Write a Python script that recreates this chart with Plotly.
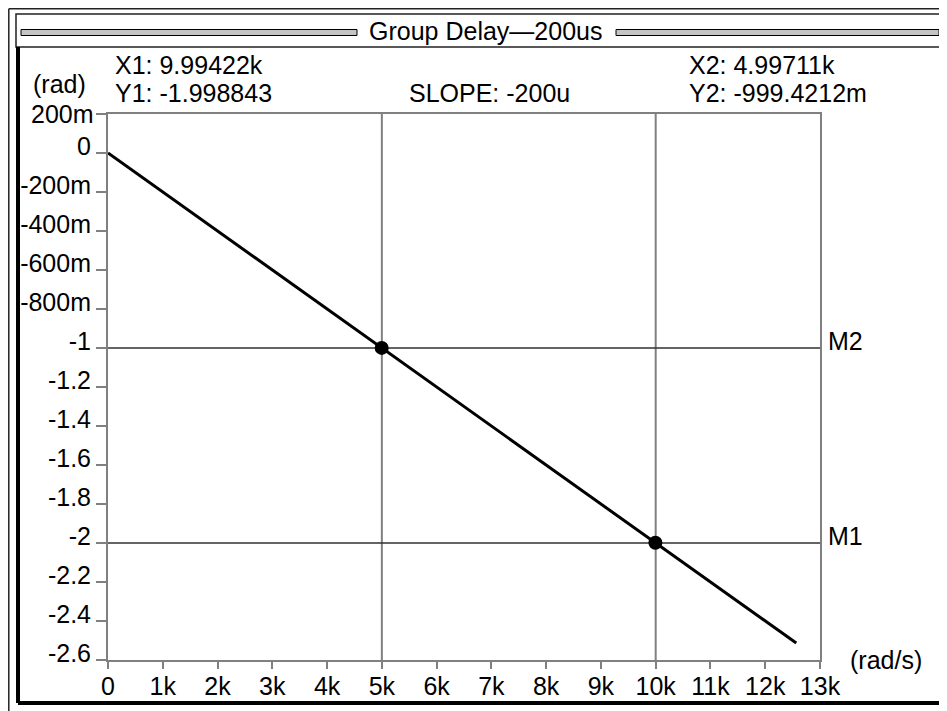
import plotly.graph_objects as go

# ---- data ----
line_x = [0, 12566.37]
line_y = [0, -2.513274]
marker_names = ["M1", "M2"]
marker_x = [9994.22, 4997.11]
marker_y = [-1.998843, -0.9994212]
slope_text = "-200u"
x_tickvals = [0, 1000, 2000, 3000, 4000, 5000, 6000, 7000, 8000, 9000, 10000, 11000, 12000, 13000]
x_ticktext = ["0", "1k", "2k", "3k", "4k", "5k", "6k", "7k", "8k", "9k", "10k", "11k", "12k", "13k"]
y_tickvals = [0.2, 0, -0.2, -0.4, -0.6, -0.8, -1, -1.2, -1.4, -1.6, -1.8, -2, -2.2, -2.4, -2.6]
y_ticktext = ["200m", "0", "-200m", "-400m", "-600m", "-800m", "-1", "-1.2", "-1.4", "-1.6", "-1.8", "-2", "-2.2", "-2.4", "-2.6"]
grid_x = [5000, 10000]
grid_y = [-1, -2]
title_text = "Group Delay\u2014200us"

# page has an 8px body margin: figure origin sits at screen (8, 8)
OFF = 8
W, H = 947 - OFF, 711 - OFF
L, R, T, B = 108, 820, 114, 660          # plot area in screen pixels
FONT = "Liberation Sans, Arial, sans-serif"
FS = 25


def px(x):
    return (x - L) / (R - L)


def py(y):
    return (B - y) / (B - T)


fig = go.Figure()
fig.add_trace(go.Scatter(x=line_x, y=line_y, mode="lines",
                         line=dict(color="black", width=3), showlegend=False))
fig.add_trace(go.Scatter(x=marker_x, y=marker_y, mode="markers",
                         marker=dict(color="black", size=14), showlegend=False))

shapes = []
for gx in grid_x:
    shapes.append(dict(type="line", xref="x", yref="paper", x0=gx, x1=gx, y0=0, y1=1,
                       line=dict(color="#808080", width=2), layer="below"))
for gy in grid_y:
    shapes.append(dict(type="line", xref="paper", yref="y", x0=0, x1=1, y0=gy, y1=gy,
                       line=dict(color="#303030", width=1.5), layer="below"))

# outer thin frame
shapes.append(dict(type="line", xref="paper", yref="paper", x0=px(8.8), x1=px(8.8), y0=py(8.8), y1=py(720),
                   line=dict(color="#222", width=1.5)))
shapes.append(dict(type="line", xref="paper", yref="paper", x0=px(8.8), x1=px(960), y0=py(8.8), y1=py(8.8),
                   line=dict(color="#222", width=1.5)))
# title box
shapes.append(dict(type="rect", xref="paper", yref="paper", x0=px(16), x1=px(960), y0=py(14), y1=py(47),
                   line=dict(color="#222", width=1.5)))
# thick panel border
for (x0, y0, x1, y1) in [(18, 47, 18, 703), (18, 703, 945, 703), (945, 47, 945, 703)]:
    shapes.append(dict(type="line", xref="paper", yref="paper", x0=px(x0), x1=px(x1), y0=py(y0), y1=py(y1),
                       line=dict(color="black", width=4)))
# title double bars
for (x0, x1) in [(21, 357), (616, 939)]:
    shapes.append(dict(type="rect", xref="paper", yref="paper", x0=px(x0), x1=px(x1), y0=py(29.5), y1=py(35.5),
                       line=dict(color="black", width=1), fillcolor="#c4c4c4"))

f = dict(family=FONT, size=FS, color="black")
ann = []


def txt(t, x, y, anchor="left"):
    ann.append(dict(text=t, xref="paper", yref="paper", x=px(x), y=py(y), xanchor=anchor,
                    yanchor="middle", showarrow=False, font=f))


txt(title_text, 485, 31, "center")
txt("(rad)", 31, 84)
txt(f"X1: {marker_x[0]/1000:.5f}k", 113, 65)
txt(f"Y1: {marker_y[0]:.6f}", 113, 93)
txt(f"SLOPE: {slope_text}", 407, 93)
txt(f"X2: {marker_x[1]/1000:.5f}k", 687, 65)
txt(f"Y2: {marker_y[1]*1000:.4f}m", 687, 93)
txt("(rad/s)", 848, 660)
for name, yv in zip(marker_names, marker_y):
    ann.append(dict(text=name, xref="paper", yref="y", x=px(826), y=round(yv), xanchor="left",
                    yanchor="middle", yshift=7, showarrow=False, font=f))
# top y tick label sits centred on its tick (no room above it)
ann.append(dict(text=y_ticktext[0], xref="paper", yref="y", x=px(96), y=y_tickvals[0], xanchor="right",
                yanchor="middle", showarrow=False, font=f))
y_ticktext_axis = [""] + y_ticktext[1:]

fig.update_layout(
    width=W, height=H,
    margin=dict(l=L - OFF, r=W - (R - OFF), t=T - OFF, b=H - (B - OFF), autoexpand=False),
    paper_bgcolor="white", plot_bgcolor="white",
    font=f,
    shapes=shapes, annotations=ann,
    xaxis=dict(range=[0, 13000], tickvals=x_tickvals, ticktext=x_ticktext, automargin=False,
               showgrid=False, zeroline=False, showline=True, linecolor="#808080", linewidth=2,
               mirror=True, ticks="outside", ticklen=7, tickcolor="#808080", tickwidth=1.5,
               ticklabelstandoff=-4, tickfont=f),
    yaxis=dict(range=[-2.6, 0.2], tickvals=y_tickvals, ticktext=y_ticktext_axis, automargin=False,
               showgrid=False, zeroline=False, showline=True, linecolor="#808080", linewidth=2,
               mirror=True, ticks="outside", ticklen=10, tickcolor="#808080", tickwidth=1.5,
               ticklabelshift=-7, ticklabelstandoff=0, tickfont=f),
)

fig.write_html("out.html")
